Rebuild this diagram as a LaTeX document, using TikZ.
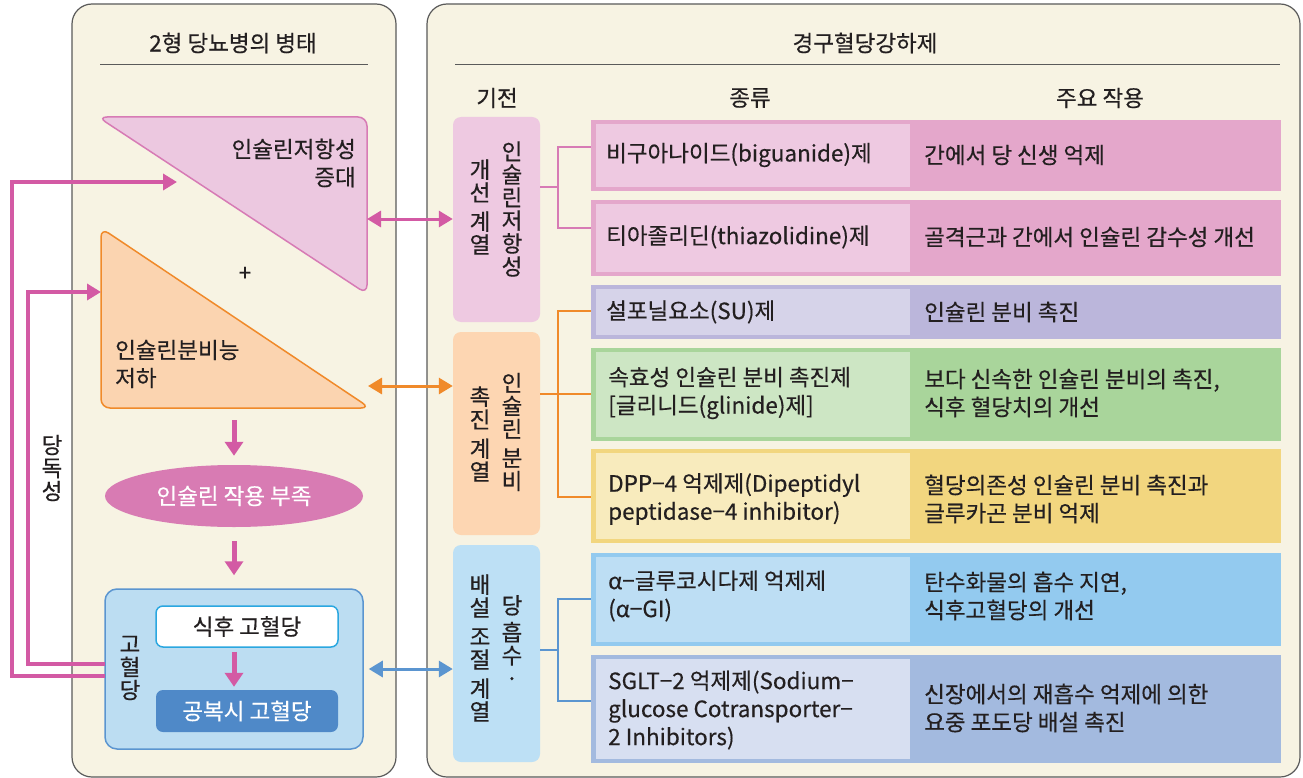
\documentclass[tikz,border=0pt]{standalone}
\usepackage{fontspec}
\setmainfont[FakeBold=0.4]{Noto Sans CJK KR}
\usetikzlibrary{arrows.meta,shapes.geometric,calc}
\definecolor{panelfill}{HTML}{F7F3E3}
\definecolor{panelline}{HTML}{5A5A5A}
\definecolor{ink}{HTML}{231F20}
\definecolor{pk}{HTML}{D35AA4}
\definecolor{pkline}{HTML}{D77BB5}
\definecolor{pktri}{HTML}{ECC8E0}
\definecolor{ortri}{HTML}{FBD4B0}
\definecolor{orline}{HTML}{F08A2A}
\definecolor{ellfill}{HTML}{D87BB3}
\definecolor{hbfill}{HTML}{BCDDF2}
\definecolor{hbline}{HTML}{5B95D0}
\definecolor{wbline}{HTML}{2AA7E0}
\definecolor{dkfill}{HTML}{4F89C8}
\definecolor{mpk}{HTML}{EEC9E1}
\definecolor{mor}{HTML}{FDD6B2}
\definecolor{mbl}{HTML}{BDE0F5}
\definecolor{pkL}{HTML}{EEC9E1}\definecolor{pkD}{HTML}{E4A7CB}
\definecolor{suL}{HTML}{D6D3E9}\definecolor{suD}{HTML}{BBB6DB}
\definecolor{grL}{HTML}{CDE6C4}\definecolor{grD}{HTML}{A9D59B}
\definecolor{ylL}{HTML}{F8EBBD}\definecolor{ylD}{HTML}{F2D67F}
\definecolor{blL}{HTML}{BDDEF4}\definecolor{blD}{HTML}{93CAEF}
\definecolor{sgL}{HTML}{D7DFF1}\definecolor{sgD}{HTML}{A3BADF}
\tikzset{
  panel/.style={draw=panelline, fill=panelfill, line width=1.2pt, rounded corners=20pt},
  t/.style={font=\fontsize{22.5}{28}\selectfont, inner sep=0pt, text=ink, align=left},
  vt/.style={font=\fontsize{22.5}{23}\selectfont, inner sep=0pt, text=ink, align=center},
  mech/.style={rounded corners=8pt, minimum width=87pt, inner sep=0pt},
  cell/.style={inner sep=0pt, minimum width=690pt},
  bigdown/.style={line width=5pt, draw=pk, -{Triangle[width=18pt,length=14pt]}},
  fb/.style={line width=3.5pt, draw=pk, -{Triangle[width=16pt,length=14pt]}},
  dbl/.style={line width=3pt, {Triangle[width=16pt,length=14pt]}-{Triangle[width=16pt,length=14pt]}},
  brk/.style={line width=1.5pt}
}
\newcommand{\rowcell}[5]{% name, center y, height, light, dark
  \node[cell, fill=#5, minimum height=#3pt] (#1) at (936,#2) {};
  \fill[#4] ($(#1.north west)+(5pt,-4pt)$) rectangle ($(#1.south west)+(319pt,4pt)$);
}
\begin{document}
\begin{tikzpicture}[x=1pt,y=-1pt]
\useasboundingbox (0,0) rectangle (1303,778);
\fill[white] (0,0) rectangle (1303,778);
% panels
\draw[panel] (72,4) rectangle (396,777);
\draw[panel] (427,4) rectangle (1300,777);
\node[t] (lt) at (233,43) {2형 당뇨병의 병태};
\draw[line width=1pt, panelline] (100,65) -- (368,65);
\node[t] (rt) at (865,43) {경구혈당강하제};
\draw[line width=1pt, panelline] (455,65) -- (1280,65);
\node[t] (h1) at (497,98) {기전};
\node[t] (h2) at (750,98) {종류};
\node[t] (h3) at (1100,98) {주요 작용};

% left triangles
\draw[draw=pkline, fill=pktri, line width=1.5pt, rounded corners=9pt] (98,117) -- (367,117) -- (367,294) -- cycle;
\node[t, align=right, anchor=east] (irt) at (356,163) {인슐린저항성\\증대};
\draw[draw=orline, fill=ortri, line width=1.5pt, rounded corners=9pt] (101,228) -- (101,408) -- (370,408) -- cycle;
\node[t, anchor=west] (ist) at (115,364) {인슐린분비능\\저하};
\node[t] (plus) at (245,274) {+};
\coordinate (irE) at (367,219);
\coordinate (isE) at (368,386);
\coordinate (isB) at (234,408);
\coordinate (irIn) at (177,182);
\coordinate (osIn) at (101,292);

% ellipse and boxes
\node[ellipse, fill=ellfill, minimum width=258pt, minimum height=62pt, inner sep=0pt, text=white, font=\fontsize{22.5}{24}\selectfont] (ell) at (234,496) {인슐린 작용 부족};
\node[rectangle, rounded corners=12pt, fill=hbfill, draw=hbline, line width=1.5pt, minimum width=258pt, minimum height=160pt] (hb) at (234,669) {};
\node[rectangle, rounded corners=7pt, fill=white, draw=wbline, line width=1.5pt, minimum width=182pt, minimum height=41pt, font=\fontsize{22.5}{24}\selectfont, text=ink] (wb) at (247,626.5) {식후 고혈당};
\node[rectangle, rounded corners=7pt, fill=dkfill, minimum width=182pt, minimum height=42pt, font=\fontsize{22.5}{24}\selectfont, text=white] (dk) at (247,711) {공복시 고혈당};
\node[vt] (hgl) at (130,668) {고\\혈\\당};
\node[vt] (tox) at (52,468) {당\\독\\성};

\draw[bigdown, shorten <=12pt, shorten >=9pt] (isB) -- (ell.north);
\draw[bigdown, shorten <=14pt, shorten >=13pt] (ell.south) -- (hb.north);
\draw[bigdown, shorten <=4pt, shorten >=3pt] (hb.center |- wb.south) -- (hb.center |- dk.north);

% feedback lines
\coordinate (fbA) at (105,676);
\coordinate (fbB) at (105,664);
\draw[fb] (fbA) -- ++(-93,0) |- (irIn);
\draw[fb] (fbB) -- ++(-77,0) |- (osIn);

% mechanism boxes
\node[mech, fill=mpk, minimum height=205pt] (m1) at (496.5,219.5) {};
\node[mech, fill=mor, minimum height=203pt] (m2) at (496.5,433.5) {};
\node[mech, fill=mbl, minimum height=217pt] (m3) at (496.5,653.5) {};
\node[vt] (m1a) at (512,209) {인\\슐\\린\\저\\항\\성};
\node[vt] (m1b) at (480,207) {개\\선\\[6pt]계\\열};
\node[vt] (m2a) at (512,432) {인\\슐\\린\\[6pt]분\\비};
\node[vt] (m2b) at (480,434) {촉\\진\\[6pt]계\\열};
\node[vt] (m3a) at (512,641) {당\\[4pt]흡\\수\\·};
\node[vt] (m3b) at (480,648) {배\\설\\[6pt]조\\절\\[6pt]계\\열};

\draw[dbl, draw=pk] (irE) -- (m1.west |- irE);
\draw[dbl, draw=orline] (isE) -- (m2.west |- isE);
\draw[dbl, draw=hbline, shorten <=5pt] (hb.east) -- (m3.west |- hb.east);

% table rows
\rowcell{r1}{155.5}{71}{pkL}{pkD}
\rowcell{r2}{238}{76}{pkL}{pkD}
\rowcell{r3}{312}{54}{suL}{suD}
\rowcell{r4}{394.5}{93}{grL}{grD}
\rowcell{r5}{496}{94}{ylL}{ylD}
\rowcell{r6}{599.5}{93}{blL}{blD}
\rowcell{r7}{709}{108}{sgL}{sgD}

\node[t, anchor=west] (k1) at (606,155) {비구아나이드(biguanide)제};
\node[t, anchor=west] (a1) at (924,155) {간에서 당 신생 억제};
\node[t, anchor=west] (k2) at (606,237) {티아졸리딘(thiazolidine)제};
\node[t, anchor=west] (a2) at (924,237) {골격근과 간에서 인슐린 감수성 개선};
\node[t, anchor=west] (k3) at (606,312) {설포닐요소(SU)제};
\node[t, anchor=west] (a3) at (924,312) {인슐린 분비 촉진};
\node[t, anchor=west] (k4) at (608,393) {속효성 인슐린 분비 촉진제\\{[}글리니드(glinide)제{]}};
\node[t, anchor=west] (a4) at (924,393) {보다 신속한 인슐린 분비의 촉진,\\식후 혈당치의 개선};
\node[t, anchor=west] (k5) at (608,499) {DPP−4 억제제(Dipeptidyl\\peptidase−4 inhibitor)};
\node[t, anchor=west] (a5) at (924,499) {혈당의존성 인슐린 분비 촉진과\\글루카곤 분비 억제};
\node[t, anchor=west] (k6) at (608,596) {α−글루코시다제 억제제\\(α−GI)};
\node[t, anchor=west] (a6) at (924,596) {탄수화물의 흡수 지연,\\식후고혈당의 개선};
\node[t, anchor=west] (k7) at (608,710) {SGLT−2 억제제(Sodium−\\glucose Cotransporter−\\2 Inhibitors)};
\node[t, anchor=west] (a7) at (924,708) {신장에서의 재흡수 억제에 의한\\요중 포도당 배설 촉진};

% brackets
\coordinate (b1) at (558,187);
\draw[brk, pkline] (m1.east |- b1) -- (b1);
\draw[brk, pkline] (r1.west |- 0,147) -| (b1) |- (r2.west |- 0,228);
\coordinate (b2) at (558,394);
\draw[brk, orline] (m2.east |- b2) -- (r4.west |- b2);
\draw[brk, orline] (r3.west |- 0,311) -| (b2) |- (r5.west |- 0,497);
\coordinate (b3) at (558,650);
\draw[brk, hbline] (m3.east |- b3) -- (b3);
\draw[brk, hbline] (r6.west |- 0,599) -| (b3) |- (r7.west |- 0,701);
\end{tikzpicture}
\end{document}
